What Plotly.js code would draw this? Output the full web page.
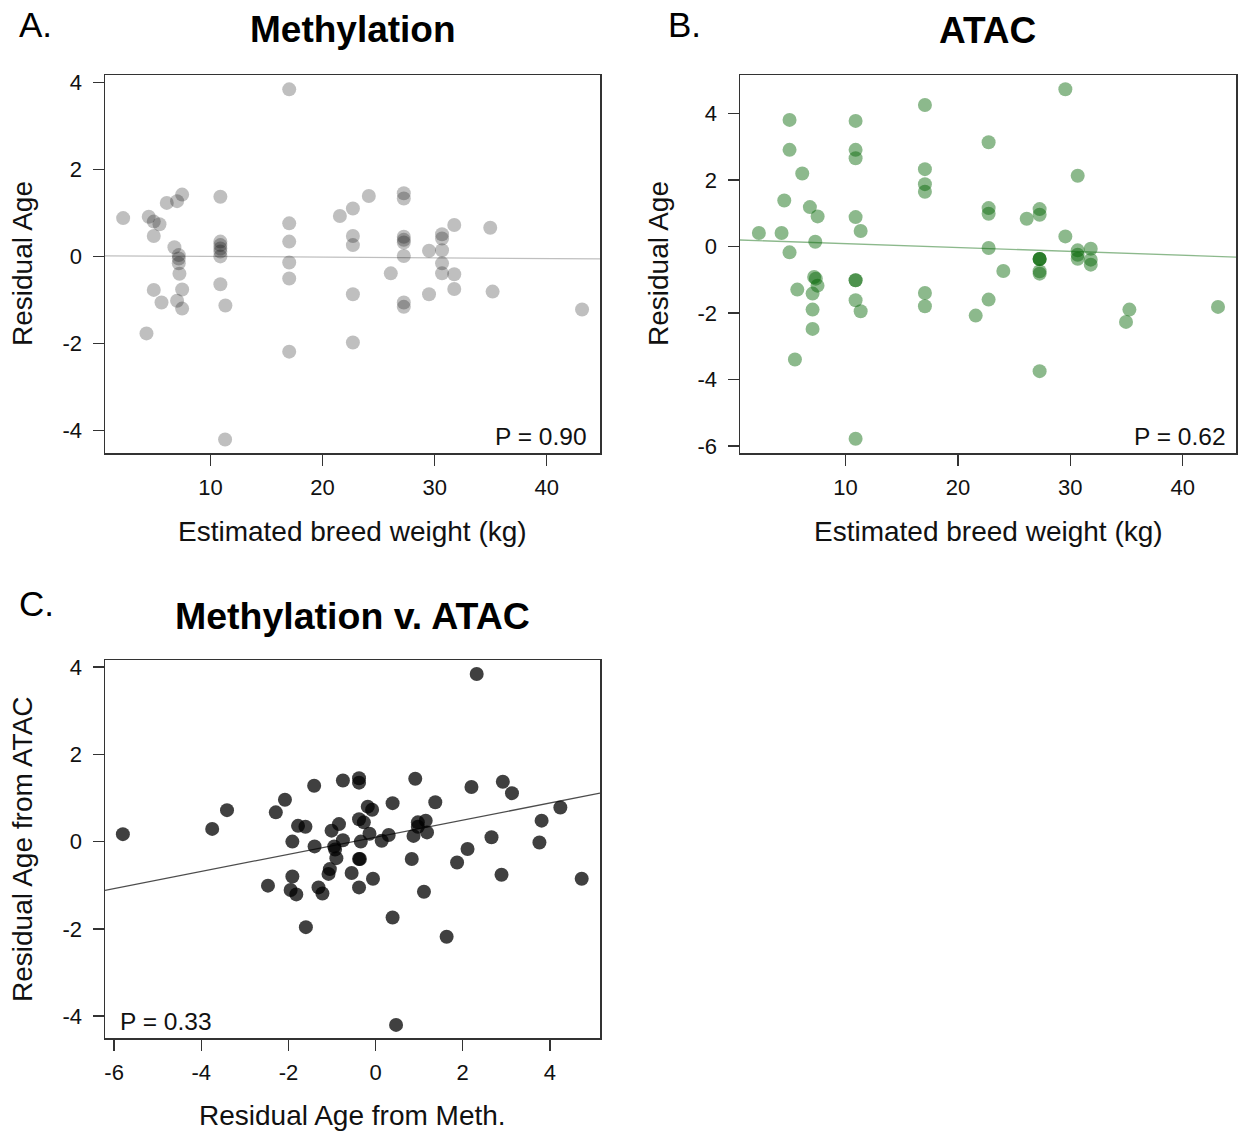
<!DOCTYPE html>
<html>
<head>
<meta charset="utf-8">
<script src="https://cdn.plot.ly/plotly-3.0.1.min.js"></script>
<style>
  html, body { margin: 0; padding: 0; background: #ffffff; }
  #chart { width: 1238px; height: 1132px; }
</style>
</head>
<body>
<div id="chart"></div>
<script>
// ---- A. Methylation: residual age vs estimated breed weight ----
const methWeight = [
  2.22, 4.30, 4.50, 4.95, 4.95, 4.95, 5.46, 5.64, 6.11, 6.79,
  7.03, 7.03, 7.18, 7.18, 7.18, 7.24, 7.48, 7.48, 7.48,
  10.89, 10.89, 10.89, 10.89, 10.89, 10.89, 10.89, 11.34, 11.31,
  17.03, 17.03, 17.03, 17.03, 17.03, 17.03,
  21.55, 22.71, 22.71, 22.71, 22.71, 22.71, 24.13, 26.09,
  27.25, 27.25, 27.25, 27.25, 27.25, 27.25, 27.25, 27.25,
  29.50, 29.50, 30.66, 30.66, 30.66, 30.66, 30.66,
  31.75, 31.75, 31.75, 34.96, 35.17, 43.15
];
const methResid = [
  0.88, -1.77, 0.91, 0.80, 0.47, -0.77, 0.74, -1.06, 1.23, 0.21,
  1.27, -1.02, 0.03, -0.05, -0.16, -0.40, 1.42, -0.76, -1.20,
  1.37, 0.34, 0.26, 0.18, 0.11, 0.00, -0.64, -1.13, -4.21,
  3.84, 0.76, 0.34, -0.14, -0.51, -2.19,
  0.93, 1.10, 0.47, 0.26, -0.87, -1.98, 1.39, -0.39,
  1.45, 1.33, 0.45, 0.38, 0.32, 0.01, -1.06, -1.16,
  0.13, -0.87, 0.51, 0.41, 0.14, -0.16, -0.39,
  0.72, -0.41, -0.75, 0.66, -0.81, -1.22
];
const methFit = { intercept: 0.015, slope: -0.0016 };
const methP = "P = 0.90";

// ---- B. ATAC: residual age vs estimated breed weight ----
const atacWeight = [
  2.28, 4.30, 4.54, 5.01, 5.01, 5.01, 5.49, 5.70, 6.14, 6.82,
  7.51, 7.30, 7.20, 7.35, 7.50, 7.06, 7.06, 7.06,
  10.89, 10.89, 10.89, 10.89, 10.89, 10.89, 10.89, 10.89, 11.34, 11.34,
  17.06, 17.06, 17.06, 17.06, 17.06, 17.06,
  21.58, 22.73, 22.73, 22.73, 22.73, 22.73, 24.04, 26.12,
  27.27, 27.27, 27.27, 27.27, 27.27, 27.27, 27.27, 27.27,
  29.56, 29.56, 30.66, 30.66, 30.66, 30.66,
  31.82, 31.82, 31.82, 35.26, 34.96, 43.15
];
const atacResid = [
  0.40, 0.40, 1.38, 3.80, 2.90, -0.18, -3.40, -1.30, 2.19, 1.18,
  0.90, 0.14, -0.92, -0.97, -1.18, -1.42, -1.90, -2.48,
  3.77, 2.90, 2.65, 0.88, -1.02, -1.02, -1.62, -5.78, 0.46, -1.95,
  4.25, 2.32, 1.87, 1.64, -1.40, -1.80,
  -2.08, 3.13, 1.15, 0.98, -0.05, -1.60, -0.74, 0.83,
  1.12, 0.95, -0.38, -0.38, -0.38, -0.75, -0.82, -3.75,
  4.72, 0.30, 2.12, -0.12, -0.25, -0.37,
  -0.07, -0.40, -0.55, -1.90, -2.27, -1.82
];
const atacFit = { intercept: 0.198, slope: -0.0116 };
const atacP = "P = 0.62";

// ---- C. Methylation v. ATAC ----
const residFromMeth = [
  -5.80, -3.75, -3.41, -2.47, -2.29, -2.08, -1.91, -1.91, -1.95, -1.82,
  -1.78, -1.61, -1.60, -1.41, -1.40, -1.31, -1.22, -1.08, -1.05, -1.01,
  -0.95, -0.93, -0.90, -0.84, -0.75, -0.75, -0.55, -0.38, -0.38, -0.38,
  -0.34, -0.38, -0.36, -0.38, -0.27, -0.18, -0.08, -0.14, -0.06, 0.14,
  0.30, 0.39, 0.39, 0.47, 0.83, 0.87, 0.91, 0.97, 0.97, 1.15,
  1.18, 1.11, 1.37, 1.63, 1.87, 2.11, 2.20, 2.32, 2.66, 2.89,
  2.92, 3.13, 3.76, 3.81, 4.24, 4.73
];
const residFromAtac = [
  0.17, 0.29, 0.72, -1.01, 0.67, 0.96, 0.00, -0.80, -1.11, -1.21,
  0.36, 0.34, -1.96, 1.28, -0.11, -1.05, -1.19, -0.74, -0.63, 0.25,
  -0.11, -0.18, -0.38, 0.40, 1.40, 0.03, -0.72, 1.45, 1.35, 0.51,
  0.00, -0.40, -0.40, -1.05, 0.44, 0.80, 0.73, 0.18, -0.85, 0.02,
  0.15, 0.88, -1.74, -4.20, -0.40, 0.13, 1.44, 0.44, 0.34, 0.48,
  0.21, -1.15, 0.90, -2.18, -0.48, -0.17, 1.25, 3.84, 0.10, -0.76,
  1.37, 1.11, -0.02, 0.48, 0.78, -0.85
];
const compareFit = { intercept: 0.10, slope: 0.196 };
const compareP = "P = 0.33";

// ---- axis ticks ----
const weightTicks = [10, 20, 30, 40];
const residTicksA = [-4, -2, 0, 2, 4];
const residTicksB = [-6, -4, -2, 0, 2, 4];
const residTicksCx = [-6, -4, -2, 0, 2, 4];
const residTicksCy = [-4, -2, 0, 2, 4];
const asText = v => v.map(t => String(t));

// ---- page geometry (pixels -> paper fractions) ----
const W = 1238, H = 1132;
const fx = p => p / W;
const fy = p => 1 - p / H;

const rangeWeight = [0.6, 44.75];
const rangeA = [-4.52, 4.17];
const rangeB = [-6.21, 5.15];
const rangeCx = [-6.21, 5.15];
const rangeCy = [-4.50, 4.16];

const FONT = "Liberation Sans, Arial, Helvetica, sans-serif";
const INK = "#111111";
const FRAME = "#333333";

function fitLine(range, fit) {
  return { x: range.slice(), y: range.map(v => fit.intercept + fit.slope * v) };
}

const mk = (color) => ({ size: 14, color: color, line: { width: 0 } });

const fa = fitLine(rangeWeight, methFit);
const fb = fitLine(rangeWeight, atacFit);
const fc = fitLine(rangeCx, compareFit);

const traces = [
  { type: "scatter", mode: "markers", x: methWeight, y: methResid,
    marker: mk("rgba(0,0,0,0.25)"), xaxis: "x", yaxis: "y", name: "Methylation" },
  { type: "scatter", mode: "lines", x: fa.x, y: fa.y,
    line: { color: "rgba(0,0,0,0.25)", width: 1.3 }, xaxis: "x", yaxis: "y", name: "fit" },
  { type: "scatter", mode: "markers", x: atacWeight, y: atacResid,
    marker: mk("rgba(0,100,0,0.45)"), xaxis: "x2", yaxis: "y2", name: "ATAC" },
  { type: "scatter", mode: "lines", x: fb.x, y: fb.y,
    line: { color: "rgba(0,100,0,0.45)", width: 1.3 }, xaxis: "x2", yaxis: "y2", name: "fit" },
  { type: "scatter", mode: "markers", x: residFromMeth, y: residFromAtac,
    marker: mk("rgba(0,0,0,0.75)"), xaxis: "x3", yaxis: "y3", name: "Methylation v. ATAC" },
  { type: "scatter", mode: "lines", x: fc.x, y: fc.y,
    line: { color: "rgba(0,0,0,0.7)", width: 1.3 }, xaxis: "x3", yaxis: "y3", name: "fit" }
];

function axis(domain, range, ticks, anchor, extra) {
  return Object.assign({
    domain: domain, range: range, anchor: anchor,
    tickmode: "array", tickvals: ticks, ticktext: asText(ticks),
    ticks: "outside", ticklen: 11, tickwidth: 1.5, tickcolor: FRAME,
    showline: true, mirror: true, linecolor: FRAME, linewidth: 1.5,
    showgrid: false, zeroline: false,
    tickfont: { family: FONT, size: 22, color: INK },
    fixedrange: true
  }, extra || {});
}

const topRow = [fy(453), fy(75)];
const bottomRow = [fy(1038), fy(660)];
const leftCol = [fx(105), fx(600)];
const rightCol = [fx(740), fx(1236)];

const xExtra = { ticklabelstandoff: 3 };
const yExtra = { ticklabelstandoff: 6 };

function label(text, x, y, size, opts) {
  return Object.assign({
    text: text, x: x, y: y, xref: "paper", yref: "paper",
    showarrow: false, xanchor: "center", yanchor: "middle",
    font: { family: FONT, size: size, color: "#000000" }
  }, opts || {});
}

const annotations = [
  label("A.", fx(17), fy(24), 35, { xanchor: "left" }),
  label("<b>Methylation</b>", fx(352.5), fy(30), 37),
  label("B.", fx(666), fy(24), 35, { xanchor: "left" }),
  label("<b>ATAC</b>", fx(987), fy(31), 37),
  label("C.", fx(17), fy(603), 35, { xanchor: "left" }),
  label("<b>Methylation v. ATAC</b>", fx(352.5), fy(616), 37.5),

  label("Residual Age", fx(22), fy(264), 28, { textangle: -90, font: { family: FONT, size: 28, color: INK } }),
  label("Estimated breed weight (kg)", fx(352.5), fy(531), 28, { font: { family: FONT, size: 28, color: INK } }),
  label("Residual Age", fx(658), fy(264), 28, { textangle: -90, font: { family: FONT, size: 28, color: INK } }),
  label("Estimated breed weight (kg)", fx(988), fy(531), 28, { font: { family: FONT, size: 28, color: INK } }),
  label("Residual Age from ATAC", fx(22), fy(849), 28, { textangle: -90, font: { family: FONT, size: 28, color: INK } }),
  label("Residual Age from Meth.", fx(352.5), fy(1115), 28, { font: { family: FONT, size: 28, color: INK } }),

  label(methP, fx(589), fy(436), 24.5, { xanchor: "right", font: { family: FONT, size: 24.5, color: INK } }),
  label(atacP, fx(1228), fy(436), 24.5, { xanchor: "right", font: { family: FONT, size: 24.5, color: INK } }),
  label(compareP, fx(118), fy(1021), 24.5, { xanchor: "left", font: { family: FONT, size: 24.5, color: INK } })
];

const layout = {
  width: W, height: H,
  margin: { l: 0, r: 0, t: 0, b: 0, pad: 0 },
  paper_bgcolor: "#ffffff", plot_bgcolor: "#ffffff",
  showlegend: false, hovermode: false,
  font: { family: FONT, color: INK },
  xaxis: axis(leftCol, rangeWeight, weightTicks, "y", xExtra),
  yaxis: axis(topRow, rangeA, residTicksA, "x", yExtra),
  xaxis2: axis(rightCol, rangeWeight, weightTicks, "y2", xExtra),
  yaxis2: axis(topRow, rangeB, residTicksB, "x2", yExtra),
  xaxis3: axis(leftCol, rangeCx, residTicksCx, "y3", xExtra),
  yaxis3: axis(bottomRow, rangeCy, residTicksCy, "x3", yExtra),
  annotations: annotations
};

Plotly.newPlot("chart", traces, layout, { staticPlot: true, displayModeBar: false });
</script>
</body>
</html>
